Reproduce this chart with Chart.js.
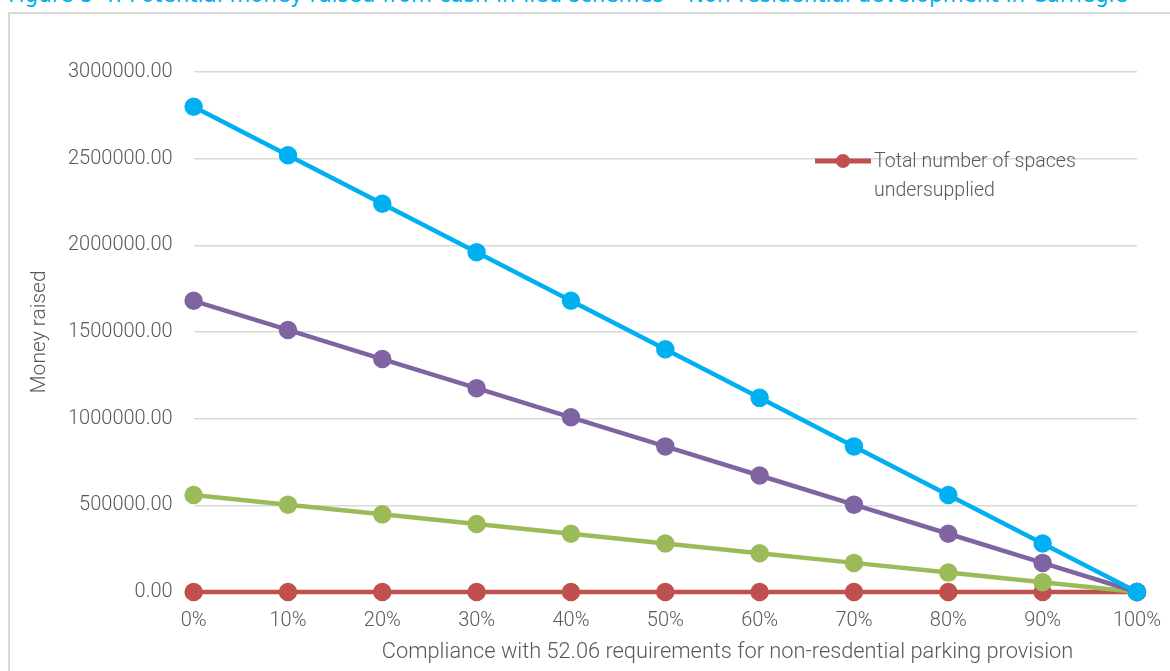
<!DOCTYPE html>
<html lang="en">
<head>
    <meta charset="UTF-8">
    <title>Potential money raised</title>
    <script src="https://cdn.jsdelivr.net/npm/chart.js@4.4.1/dist/chart.umd.min.js"></script>
    <style>
        body { margin: 0; background: #fff; overflow: hidden; }
        #page { position: relative; width: 1170px; height: 671px; overflow: hidden; }
        #figTitle {
            position: absolute; left: 8px; top: -20px; white-space: nowrap;
            font-family: "DejaVu Sans Condensed", sans-serif;
            font-size: 23.8px; color: #00b0f0;
        }
        #frame {
            position: absolute; left: 8px; top: 12px; width: 1180px; height: 680px;
            border: 2px solid #d9d9d9; box-sizing: border-box;
        }
        #wrap { position: absolute; left: 0; top: 0; width: 1170px; height: 671px; }
    </style>
</head>
<body>
<div id="page">
    <div id="figTitle">Figure 5-4: Potential money raised from cash-in-lieu schemes – Non-residential development in Carnegie</div>
    <div id="frame"></div>
    <div id="wrap"><canvas id="chart" width="1170" height="671"></canvas></div>
</div>
<script>
    const compliance = ['0%', '10%', '20%', '30%', '40%', '50%', '60%', '70%', '80%', '90%', '100%'];
    const seriesBlue = [2800000, 2520000, 2240000, 1960000, 1680000, 1400000, 1120000, 840000, 560000, 280000, 0];
    const seriesPurple = [1680000, 1512000, 1344000, 1176000, 1008000, 840000, 672000, 504000, 336000, 168000, 0];
    const seriesGreen = [560000, 504000, 448000, 392000, 336000, 280000, 224000, 168000, 112000, 56000, 0];
    const spacesUndersupplied = [0, 0, 0, 0, 0, 0, 0, 0, 0, 0, 0];
    const legendLabel = ['Total number of spaces', 'undersupplied'];

    const fontFamily = 'Roboto, "DejaVu Sans Condensed", sans-serif';
    const textColor = '#595959';

    function lineSet(label, data, color) {
        return {
            label: label,
            data: data,
            borderColor: color,
            backgroundColor: color,
            pointBackgroundColor: color,
            pointBorderColor: color,
            borderWidth: 4.5,
            pointRadius: 7,
            tension: 0,
            clip: false
        };
    }

    // only the red series is shown in the legend, inside the plot
    const legendPlugin = {
        id: 'legendInside',
        afterDraw(chart) {
            const c = chart.ctx;
            const y = 161;
            c.save();
            c.strokeStyle = '#c0504d';
            c.lineWidth = 5;
            c.beginPath();
            c.moveTo(815, y);
            c.lineTo(871, y);
            c.stroke();
            c.fillStyle = '#c0504d';
            c.beginPath();
            c.arc(843, y, 7, 0, Math.PI * 2);
            c.fill();
            c.fillStyle = textColor;
            c.font = '300 19.5px ' + fontFamily;
            c.textBaseline = 'middle';
            c.fillText(legendLabel[0], 874, y + 1);
            c.fillText(legendLabel[1], 874, y + 30);
            c.restore();
        }
    };

    // axis titles: x title sits right of centre in the original
    const axisTitlePlugin = {
        id: 'axisTitles',
        afterDraw(chart) {
            const c = chart.ctx;
            const a = chart.chartArea;
            c.save();
            c.fillStyle = textColor;
            c.font = '300 21.8px ' + fontFamily;
            c.textAlign = 'center';
            c.textBaseline = 'middle';
            c.fillText('Compliance with 52.06 requirements for non-resdential parking provision', a.left + (a.right - a.left) * 0.566, 653);
            c.translate(40, (a.top + a.bottom) / 2);
            c.rotate(-Math.PI / 2);
            c.font = '300 21px ' + fontFamily;
            c.fillText('Money raised', 0, 0);
            c.restore();
        }
    };

    new Chart(document.getElementById('chart'), {
        type: 'line',
        data: {
            labels: compliance,
            datasets: [
                lineSet('Series 1', seriesBlue, '#00b0f0'),
                lineSet('Series 2', seriesPurple, '#8064a2'),
                lineSet('Series 3', seriesGreen, '#9bbb59'),
                lineSet('Total number of spaces undersupplied', spacesUndersupplied, '#c0504d')
            ]
        },
        options: {
            responsive: false,
            animation: false,
            layout: { padding: { left: 47, right: 28, top: 72, bottom: 29 } },
            plugins: {
                legend: { display: false },
                tooltip: { enabled: false }
            },
            scales: {
                x: {
                    offset: false,
                    grid: { display: false },
                    border: { display: false },
                    ticks: { color: textColor, font: { family: fontFamily, size: 20, weight: 300 }, padding: 9, maxRotation: 0 }
                },
                y: {
                    min: 0,
                    max: 3000000,
                    ticks: {
                        stepSize: 500000,
                        color: textColor,
                        font: { family: fontFamily, size: 20, weight: 300 },
                        padding: 21,
                        callback: v => v.toFixed(2)
                    },
                    grid: { color: '#d9d9d9', lineWidth: 1.5, drawTicks: false },
                    border: { display: false }
                }
            }
        },
        plugins: [legendPlugin, axisTitlePlugin]
    });
</script>
</body>
</html>
